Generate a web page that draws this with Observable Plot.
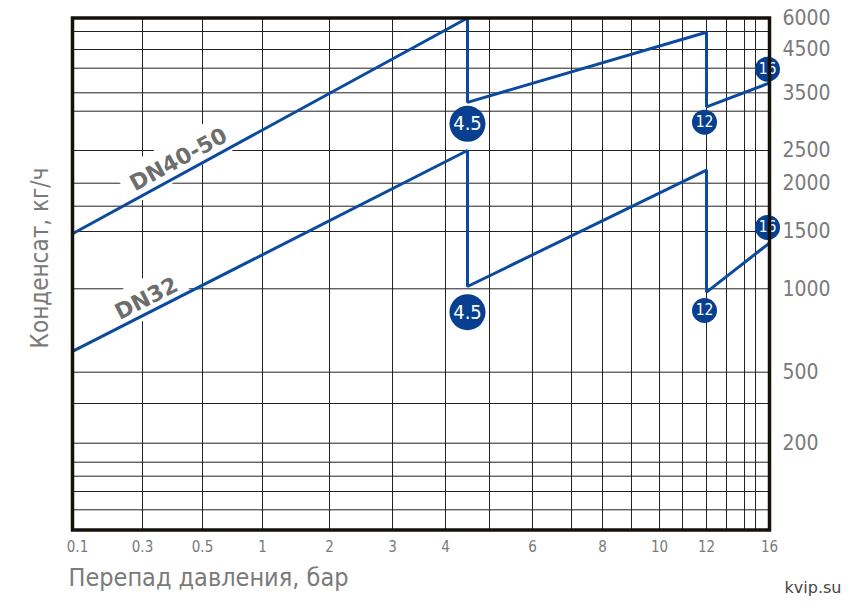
<!DOCTYPE html>
<html><head><meta charset="utf-8">
<script src="https://cdn.jsdelivr.net/npm/d3@7"></script>
<script src="https://cdn.jsdelivr.net/npm/@observablehq/plot@0.6"></script>
<style>
html,body{margin:0;padding:0;background:#fff;}
</style></head><body><div id="chart"></div>
<script>
// ---- data ----
const xTickValues = [0.1, 0.3, 0.5, 1, 2, 3, 4, 6, 8, 10, 12, 16];
const xGridValues = [0.3, 0.5, 1, 2, 3, 4, 5, 6, 7, 8, 9, 10, 11, 12, 13, 14, 15];
const yTickValues = [6000, 4500, 3500, 2500, 2000, 1500, 1000, 500, 200];
const yGridValues = [5000, 4500, 4000, 3500, 3000, 2500, 2000, 1750, 1500, 1000, 500, 400, 200, 150, 100, 80, 60];

const dn40x = [0.1, 4.5, 4.5, 12, 12, 16];
const dn40y = [1480, 6000, 3240, 4980, 3120, 3700];
const dn32x = [0.1, 4.5, 4.5, 12, 12, 16];
const dn32y = [625, 2500, 1020, 2200, 980, 1400];

const markerSeries = ["DN40-50", "DN40-50", "DN40-50", "DN32", "DN32", "DN32"];
const markerX = [4.5, 12, 16, 4.5, 12, 16];
const markerY = [2840, 2860, 3980, 860, 870, 1540];
const markerLabel = ["4.5", "12", "16", "4.5", "12", "16"];

const seriesNames = ["DN40-50", "DN32"];
const seriesLabelX = [0.42, 0.313];
const seriesLabelY = [2360, 940];

// ---- non-uniform scales of the original paper chart (piecewise) ----
const xBreaks = [0.1, 0.3, 0.5, 1, 2, 3, 4, 5, 6, 7, 8, 9, 10, 11, 12, 13, 14, 15, 16];
const xBreakPos = [72, 142, 202, 262, 329, 392, 445, 489, 532, 571, 602, 631, 659, 682, 706, 726, 744, 755, 769];
const yBreaks = [40, 60, 80, 100, 150, 200, 400, 500, 1000, 1500, 1750, 2000, 2500, 3000, 3500, 4000, 4500, 5000, 6000];
const yBreakPos = [529.5, 509.3, 491, 475.7, 461.7, 442.7, 403, 371.7, 288.3, 231, 205.7, 182.7, 150, 110.7, 92.3, 67.7, 49, 31, 17.5];

const rows = (xs, ys) => xs.map((x, i) => ({x, y: ys[i]}));
const markers = markerX.map((x, i) => ({x, y: markerY[i], label: markerLabel[i], series: markerSeries[i]}));
const bigMarkers = markers.filter(d => d.label === "4.5");
const smallMarkers = markers.filter(d => d.label !== "4.5");
const seriesLabels = seriesNames.map((s, i) => ({s, x: seriesLabelX[i], y: seriesLabelY[i]}));

const blue = "#0b4a9e";
const dotBlue = "#083f8f";
const grey = "#7a7a7a";
const font = "'DejaVu Sans Condensed', 'DejaVu Sans', sans-serif";

const chart = Plot.plot({
  width: 860,
  height: 612,
  marginLeft: 72,
  marginRight: 91,
  marginTop: 17.5,
  marginBottom: 82.5,
  style: {fontFamily: font, background: "#fff"},
  x: {type: "linear", domain: xBreaks, range: xBreakPos},
  y: {type: "linear", domain: yBreaks, range: yBreakPos},
  marks: [
    Plot.ruleX(xGridValues, {stroke: "#222", strokeWidth: 1}),
    Plot.ruleY(yGridValues, {stroke: "#222", strokeWidth: 1}),
    Plot.text(seriesLabels.slice(0, 1), {x: "x", y: "y", text: "s", rotate: -28.6, fontSize: 22, fontWeight: "bold",
      fontFamily: "'DejaVu Sans', sans-serif", fill: "#6d6d6d", stroke: "white", strokeWidth: 22, strokeLinejoin: "round"}),
    Plot.text(seriesLabels.slice(1), {x: "x", y: "y", text: "s", rotate: -27, fontSize: 22, fontWeight: "bold",
      fontFamily: "'DejaVu Sans', sans-serif", fill: "#6d6d6d", stroke: "white", strokeWidth: 22, strokeLinejoin: "round"}),
    Plot.line(rows(dn40x, dn40y), {x: "x", y: "y", stroke: blue, strokeWidth: 3, strokeLinejoin: "miter"}),
    Plot.line(rows(dn32x, dn32y), {x: "x", y: "y", stroke: blue, strokeWidth: 3, strokeLinejoin: "miter"}),
    Plot.dot(bigMarkers, {x: "x", y: "y", r: 18, fill: dotBlue}),
    Plot.dot(smallMarkers, {x: "x", y: "y", r: 12.5, fill: dotBlue, dx: -2}),
    Plot.text(bigMarkers, {x: "x", y: "y", text: "label", fill: "white", fontSize: 20}),
    Plot.text(smallMarkers, {x: "x", y: "y", text: "label", fill: "white", fontSize: 15.5, dx: -2}),
    Plot.frame({stroke: "#14100c", strokeWidth: 3.5}),
    Plot.axisX(xTickValues.slice(0, 1), {tickSize: 0, tickPadding: 11, fontSize: 15, fill: grey, dx: 5, tickFormat: d => String(d), label: null}),
    Plot.axisX(xTickValues.slice(1), {tickSize: 0, tickPadding: 11, fontSize: 15, fill: grey, tickFormat: d => String(d), label: null}),
    Plot.axisY(yTickValues, {anchor: "right", tickSize: 0, tickPadding: 13, fontSize: 21, fill: grey, tickFormat: d => String(d), label: null}),
    Plot.text(["Конденсат, кг/ч"], {frameAnchor: "left", textAnchor: "middle", lineAnchor: "middle", rotate: -90, dx: -32, dy: -16, fontSize: 24, fill: grey}),
    Plot.text(["Перепад давления, бар"], {frameAnchor: "bottom-left", textAnchor: "start", lineAnchor: "bottom", dx: -4, dy: 55.5, fontSize: 25, fill: grey}),
    Plot.text(["kvip.su"], {frameAnchor: "bottom-right", textAnchor: "end", lineAnchor: "bottom", dx: 72, dy: 62.5, fontSize: 16, fill: "#444", fontFamily: "'DejaVu Sans', sans-serif"})
  ]
});
document.getElementById("chart").appendChild(chart);
</script>
</body></html>
